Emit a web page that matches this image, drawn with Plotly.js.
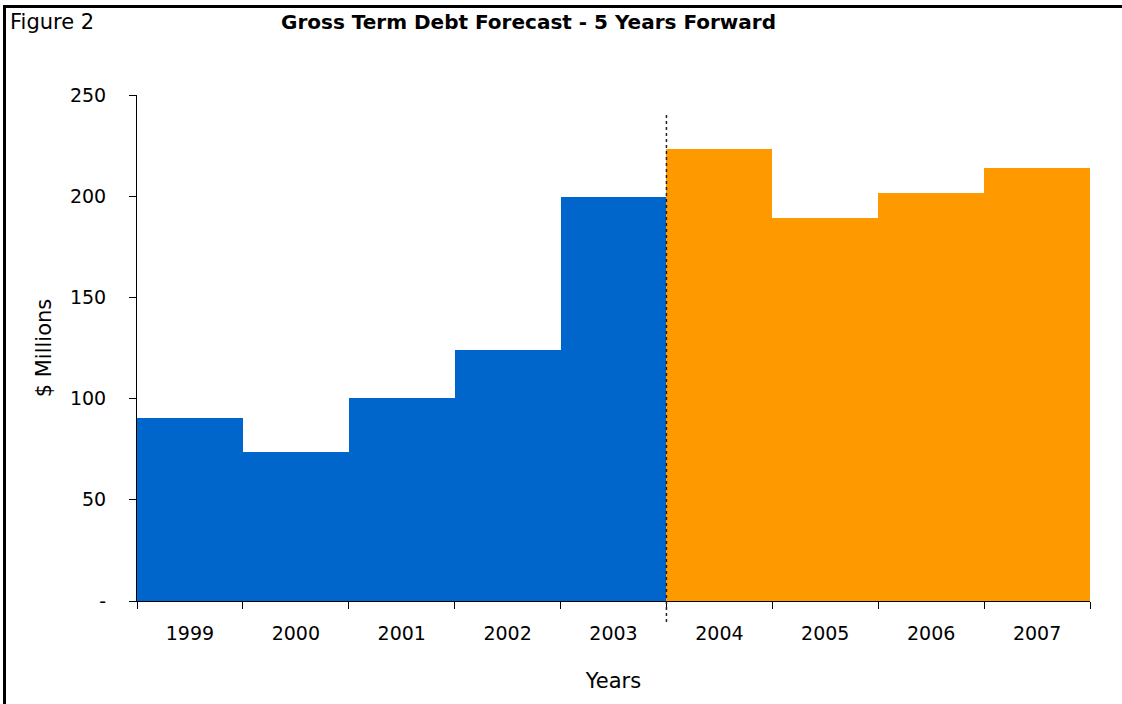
<!DOCTYPE html>
<html>
<head>
<meta charset="utf-8">
<script src="https://cdn.plot.ly/plotly-3.0.1.min.js"></script>
<style>
  html, body { margin: 0; padding: 0; background: #fff; }
  #chart { width: 1122px; height: 704px; }
</style>
</head>
<body>
<div id="chart"></div>
<script>
const actualYears = ['1999', '2000', '2001', '2002', '2003'];
const actualValues = [90.5, 73.5, 100.5, 124, 199.5];
const forecastYears = ['2004', '2005', '2006', '2007'];
const forecastValues = [223.5, 189, 201.5, 214];
const yTickVals = [0, 50, 100, 150, 200, 250];
const yTickText = ['-', '50', '100', '150', '200', '250'];
const allYears = actualYears.concat(forecastYears);

const FONT = 'DejaVu Sans, Liberation Sans, sans-serif';

const traces = [
  {
    type: 'bar',
    name: 'Actual',
    x: actualYears,
    y: actualValues,
    marker: { color: '#0066CC', line: { width: 0 } },
    hoverinfo: 'x+y'
  },
  {
    type: 'bar',
    name: 'Forecast',
    x: forecastYears,
    y: forecastValues,
    marker: { color: '#FF9900', line: { width: 0 } },
    hoverinfo: 'x+y'
  }
];

const L = 137, R = 1090, T = 95, B = 601, W = 1122, H = 704;
const px = v => (v - L) / (R - L);
const py = v => (B - v) / (B - T);

const layout = {
  width: W,
  height: H,
  margin: { l: L, r: W - R, t: T, b: H - B, pad: 0 },
  paper_bgcolor: '#ffffff',
  plot_bgcolor: '#ffffff',
  showlegend: false,
  barmode: 'overlay',
  bargap: 0,
  font: { family: FONT, size: 19, color: '#000000' },
  xaxis: {
    type: 'category',
    categoryorder: 'array',
    categoryarray: allYears,
    showline: true,
    linecolor: '#000000',
    linewidth: 1,
    ticks: 'outside',
    tickson: 'boundaries',
    ticklen: 7,
    tickcolor: '#000000',
    tickwidth: 1,
    showgrid: false,
    zeroline: false,
    ticklabelstandoff: 15,
    tickfont: { family: FONT, size: 19, color: '#000000' },
    title: { text: 'Years', font: { family: FONT, size: 21, color: '#000000' }, standoff: 30 }
  },
  yaxis: {
    range: [0, 250],
    tickmode: 'array',
    tickvals: yTickVals,
    ticktext: yTickText,
    showline: true,
    linecolor: '#000000',
    linewidth: 1,
    ticks: 'outside',
    ticklen: 7,
    tickcolor: '#000000',
    tickwidth: 1,
    showgrid: false,
    zeroline: false,
    ticklabelstandoff: 19,
    tickfont: { family: FONT, size: 19, color: '#000000' },
    title: { text: '$ Millions', font: { family: FONT, size: 21, color: '#000000' }, standoff: 12 }
  },
  shapes: [
    {
      type: 'line', xref: 'x', yref: 'paper',
      x0: 4.5, x1: 4.5, y0: py(622), y1: py(112),
      line: { color: '#222222', width: 1.5, dash: 'dot' },
      layer: 'above'
    },
    {
      type: 'line', xref: 'paper', yref: 'paper',
      x0: px(3), x1: px(1122), y0: py(6.5), y1: py(6.5),
      line: { color: '#000000', width: 3 }
    },
    {
      type: 'line', xref: 'paper', yref: 'paper',
      x0: px(4.5), x1: px(4.5), y0: py(5), y1: py(704),
      line: { color: '#000000', width: 3 }
    }
  ],
  annotations: [
    {
      xref: 'paper', yref: 'paper', x: px(8), y: py(22),
      xanchor: 'left', yanchor: 'middle', showarrow: false,
      text: 'Figure 2',
      font: { family: FONT, size: 21, color: '#000000' }
    },
    {
      xref: 'paper', yref: 'paper', x: px(528), y: py(22),
      xanchor: 'center', yanchor: 'middle', showarrow: false,
      text: '<b>Gross Term Debt Forecast - 5 Years Forward</b>',
      font: { family: FONT, size: 20, color: '#000000' }
    }
  ]
};

Plotly.newPlot('chart', traces, layout, { displayModeBar: false, staticPlot: true });
</script>
</body>
</html>
